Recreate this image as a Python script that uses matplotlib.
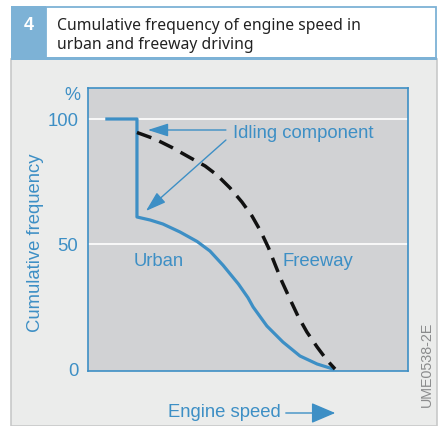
import matplotlib
import matplotlib.pyplot as plt
from matplotlib.patches import Rectangle, FancyArrowPatch

matplotlib.use('Agg')

# data (engine speed in arbitrary units 0..100, frequency in %)
urban_x = [5.9, 15.3, 15.3, 19.4, 23.4, 28.75, 34.1, 38.1, 42.2, 47, 50, 51.6, 55.9, 60.9, 66.25, 71.6, 76.6]
urban_y = [100, 100, 60.8, 59.6, 58, 54.8, 51.0, 47.2, 41.5, 34.0, 28.5, 24.8, 17.2, 10.8, 5.2, 2, 0]
freeway_x = [15.3, 20.9, 26.25, 31.25, 36.6, 40.3, 44.4, 48.1, 51.25, 54, 56.4, 58.4, 60.6, 63.1,
             65.6, 68.4, 71.6, 74.7, 77.2]
freeway_y = [94.6, 92, 88.6, 85.0, 81.2, 77.6, 72.4, 66.8, 61.2, 55.0, 48.5, 42, 35.0, 28,
             21.2, 14.8, 8.8, 3.5, 0]
yticks = [0, 50, 100]
ytick_labels = ['0', '50', '100']

BLUE = '#3d8fc5'
HEAD_BLUE = '#7db2d6'
W, H = 440, 427

plt.rcParams['font.family'] = ['Liberation Sans', 'DejaVu Sans']


def fx(px):
    return px / W


def fy(py):
    return 1 - py / H


fig = plt.figure(figsize=(4.4, 4.27), dpi=100)
fig.patch.set_facecolor('white')

# grey panel + header
fig.add_artist(Rectangle((fx(11), 0), fx(437) - fx(11), fy(60), transform=fig.transFigure,
                         facecolor='#ebeceb', edgecolor='#c8c9c9', lw=1.2, zorder=-5))
fig.add_artist(Rectangle((fx(11), fy(60)), fx(46) - fx(11), fy(7) - fy(60), transform=fig.transFigure,
                         facecolor=HEAD_BLUE, edgecolor='none', zorder=-5))
fig.add_artist(Rectangle((fx(46), fy(59)), fx(436) - fx(46), fy(7.5) - fy(59), transform=fig.transFigure,
                         facecolor='white', edgecolor=HEAD_BLUE, lw=1.3, zorder=-5))
fig.add_artist(Rectangle((fx(11), fy(61)), fx(437) - fx(11), fy(58) - fy(61), transform=fig.transFigure,
                         facecolor=HEAD_BLUE, edgecolor='none', zorder=-4))
fig.text(fx(28.5), fy(26), '4', color='white', fontsize=13, fontweight='bold', ha='center', va='center')
fig.text(fx(57), fy(26), 'Cumulative frequency of engine speed in', fontsize=11.3,
         family=['Noto Sans', 'DejaVu Sans'], color='#222222', va='center')
fig.text(fx(57), fy(45), 'urban and freeway driving', fontsize=11.3,
         family=['Noto Sans', 'DejaVu Sans'], color='#222222', va='center')

ax = fig.add_axes([fx(88), fy(372), fx(408) - fx(88), fy(89) - fy(372)])
ax.set_facecolor('#d1d2d4')
ax.set_xlim(0, 100)
ax.set_ylim(-0.8, 112.4)
for s in ax.spines.values():
    s.set_color(BLUE)
    s.set_linewidth(1.2)
ax.set_xticks([])
ax.set_yticks(yticks)
ax.set_yticklabels(ytick_labels)
ax.tick_params(axis='y', length=0, pad=7, labelsize=13.3, labelcolor=BLUE)
for yv in [50, 100]:
    ax.axhline(yv, color='white', lw=1.2, zorder=1)

ax.plot(urban_x, urban_y, color=BLUE, lw=2.3, zorder=3, solid_joinstyle='round')
ax.plot(freeway_x, freeway_y, color='#111111', lw=2.5, ls=(0, (4.4, 2.5)), zorder=3)

ax.text(45.3, 94.8, 'Idling component', color=BLUE, fontsize=13.3, va='center', ha='left')
ax.annotate('', xy=(18.7, 95.6), xytext=(43.1, 95.6),
            arrowprops=dict(arrowstyle='-|>,head_length=1.25,head_width=0.4', color=BLUE, lw=1.0,
                            shrinkA=0, shrinkB=0))
ax.annotate('', xy=(18.1, 63.2), xytext=(43.1, 91.6),
            arrowprops=dict(arrowstyle='-|>,head_length=1.25,head_width=0.4', color=BLUE, lw=1.0,
                            shrinkA=0, shrinkB=0))
ax.text(14.4, 43.2, 'Urban', color=BLUE, fontsize=13.3, va='center', ha='left')
ax.text(60.9, 43.2, 'Freeway', color=BLUE, fontsize=13.3, va='center', ha='left')

fig.text(fx(72), fy(96), '%', color=BLUE, fontsize=13, ha='center', va='center')
fig.text(fx(35), fy(243), 'Cumulative frequency', color=BLUE, fontsize=13.3, rotation=90,
         ha='center', va='center')
fig.text(fx(168), fy(413), 'Engine speed', color=BLUE, fontsize=13.3, ha='left', va='center')
fig.add_artist(FancyArrowPatch((fx(283), fy(414)), (fx(338), fy(414)),
                               transform=fig.transFigure, color=BLUE, lw=1.0,
                               arrowstyle='-|>,head_length=7.5,head_width=3.2',
                               mutation_scale=2))
fig.text(fx(427), fy(364), 'UME0538-2E', color='#8a8b8c', fontsize=10.3, rotation=90,
         ha='center', va='center')

fig.savefig('out.png', dpi=100)
